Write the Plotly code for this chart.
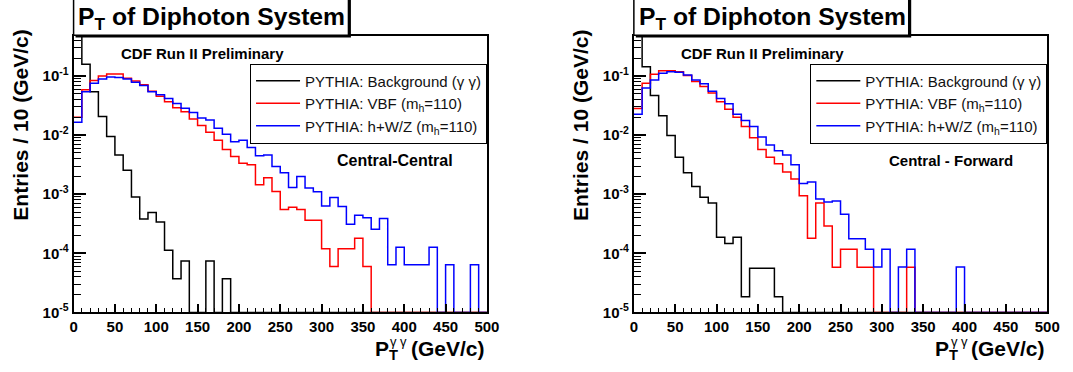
import plotly.graph_objects as go

# ---------------- data (10 GeV bins, 0-500 GeV) ----------------
bin_edges = list(range(0, 510, 10))

# Central-Central
bkg_cc = [0.9, 0.158, 0.054, 0.0207, 0.0095, 0.0046, 0.00255, 0.0009, 0.00038, 0.00049,
          0.00034, 0.000113, 3.7e-5, 7.4e-5, 0, 0, 7.4e-5, 0, 3.7e-5, 0] + [0] * 30
vbf_cc = [0.020, 0.0586, 0.084, 0.100, 0.108, 0.108, 0.0917, 0.0826, 0.071, 0.055,
          0.0456, 0.0367, 0.0292, 0.0248, 0.0187, 0.0145, 0.0112, 0.0082, 0.0057, 0.00434,
          0.00336, 0.00316, 0.00145, 0.0019, 0.00111, 0.00055, 0.0006, 0.00055, 0.000364, 0.000364,
          0.00012, 0.00006, 0.00012, 0.00012, 0.00018, 0.00006] + [0] * 14
whz_cc = [0.0165, 0.054, 0.0757, 0.089, 0.096, 0.094, 0.089, 0.0787, 0.069, 0.054,
          0.0484, 0.0416, 0.0343, 0.0284, 0.0241, 0.0194, 0.018, 0.0131, 0.0103, 0.0077,
          0.0082, 0.0062, 0.00446, 0.0046, 0.00296, 0.0023, 0.0013, 0.002, 0.00127, 0.0011,
          0.00063, 0.00088, 0.00062, 0.00031, 0.00044, 0.0004, 0.000255, 0.00039, 0.000064, 0.000127,
          0.000064, 0.000064, 0.000064, 0.000127, 0, 0.000064, 0, 0, 0.000064, 0]

# Central-Forward
bkg_cf = [0.6, 0.143, 0.0467, 0.0213, 0.0099, 0.00423, 0.0023, 0.00135, 0.00089, 0.00071,
          0.000188, 0.000146, 0.000188, 1.84e-5, 5.6e-5, 5.6e-5, 5.6e-5, 1.84e-5] + [0] * 32
vbf_cf = [0.0281, 0.0757, 0.1067, 0.123, 0.123, 0.118, 0.1016, 0.0807, 0.0667, 0.0517,
          0.0367, 0.0274, 0.020, 0.014, 0.00906, 0.0057, 0.00423, 0.00329, 0.00238, 0.00181,
          0.00094, 0.00018, 0.00071, 0.00029, 0.000058, 0.000117, 0.000117, 0.000058, 0.000058, 0,
          0, 0, 0, 0.000058] + [0] * 16
whz_cf = [0.0226, 0.0625, 0.086, 0.111, 0.118, 0.116, 0.104, 0.086, 0.0738, 0.055,
          0.0416, 0.034, 0.0226, 0.0176, 0.014, 0.0093, 0.0068, 0.00546, 0.0046, 0.00316,
          0.00152, 0.00161, 0.00083, 0.00074, 0.00077, 0.00046, 0.000177, 0.000177, 0.000117, 0.000059,
          0.000117, 0, 0.000059, 0.000117, 0, 0, 0, 0, 0, 0.000059] + [0] * 10

series_names = ["PYTHIA: Background (γ γ)",
                "PYTHIA: VBF (m<sub>h</sub>=110)",
                "PYTHIA: h+W/Z (m<sub>h</sub>=110)"]
series_colors = ["#000000", "#ff0000", "#0000ff"]
panel_labels = ["Central-Central", "Central - Forward"]
panels = [[bkg_cc, vbf_cc, whz_cc], [bkg_cf, vbf_cf, whz_cf]]
x_tickvals = list(range(0, 550, 50))
y_tickvals = [1e-5, 1e-4, 1e-3, 1e-2, 1e-1]
y_ticktext = ["10<sup>-5</sup>", "10<sup>-4</sup>", "10<sup>-3</sup>", "10<sup>-2</sup>",
              "10<sup>-1</sup>"]

# ---------------- layout helpers ----------------
W, H = 1073, 372
FONT = "Liberation Sans, Arial, Helvetica, sans-serif"
YMIN, YTOP = -5, -0.318


def px(x):
    return x / W


def py(y):
    return 1 - y / H


minor_y = [m * 10 ** e for e in range(-5, 0) for m in range(2, 10) if m * 10 ** e < 10 ** YTOP]

fig = go.Figure()
floor = 10 ** YMIN
for p, hists in enumerate(panels):
    xa = "x" if p == 0 else "x2"
    ya = "y" if p == 0 else "y2"
    for name, col, vals in zip(series_names, series_colors, hists):
        yv = [v if v > 0 else floor for v in vals]
        fig.add_trace(go.Scatter(
            x=bin_edges, y=yv + [yv[-1]], mode="lines", line_shape="hv",
            line=dict(color=col, width=1.5), name=name, xaxis=xa, yaxis=ya,
            legend="legend" if p == 0 else "legend2", hoverinfo="skip"))

shapes = []
annotations = []
layout_axes = {}
for p in range(2):
    off = 0 if p == 0 else 569.3
    sfx = "" if p == 0 else "2"
    layout_axes["xaxis" + sfx] = dict(
        domain=[px(70.7 + off), px(490.7 + off)], range=[0, 500], anchor="y" + sfx,
        tickmode="array", tickvals=x_tickvals, ticks="inside", ticklen=8, tickwidth=1.5,
        tickcolor="black",
        minor=dict(dtick=10, tick0=0, ticks="inside", ticklen=4, tickwidth=1, tickcolor="black"),
        showline=True, linewidth=2, linecolor="black", mirror=True,
        showgrid=False, zeroline=False,
        tickfont=dict(family=FONT, size=15, color="black", weight="bold"))
    layout_axes["yaxis" + sfx] = dict(
        type="log", range=[YMIN, YTOP], domain=[py(319.3), py(36.5)], anchor="x" + sfx,
        tickmode="array", tickvals=y_tickvals, ticktext=y_ticktext,
        ticks="inside", ticklen=12, tickwidth=1.5, tickcolor="black",
        minor=dict(tickmode="array", tickvals=minor_y, ticks="inside", ticklen=7, tickwidth=1,
                   tickcolor="black"),
        showline=True, linewidth=2, linecolor="black", mirror=True,
        showgrid=False, zeroline=False,
        tickfont=dict(family=FONT, size=15, color="black", weight="bold"))

    # title box with shadow
    shapes.append(dict(type="rect", xref="paper", yref="paper",
                       x0=px(72.7 + off), x1=px(352.5 + off), y0=py(38.3), y1=py(-5),
                       fillcolor="black", line=dict(width=0), layer="above"))
    shapes.append(dict(type="rect", xref="paper", yref="paper",
                       x0=px(70.7 + off), x1=px(350 + off), y0=py(36), y1=py(-5),
                       fillcolor="white", line=dict(color="black", width=1.5), layer="above"))
    annotations.append(dict(text="<b>P<sub>T</sub> of Diphoton System</b>", x=px(73.5 + off),
                            y=py(19), xref="paper", yref="paper", xanchor="left",
                            yanchor="middle", showarrow=False,
                            font=dict(family=FONT, size=24.7, color="black")))
    # legend shadow
    shapes.append(dict(type="rect", xref="paper", yref="paper",
                       x0=px(254 + off), x1=px(483.5 + off), y0=py(145), y1=py(69),
                       fillcolor="black", line=dict(width=0), layer="above"))
    annotations.append(dict(text="<b>CDF Run II Preliminary</b>", x=px(201.7 + off), y=py(54.2),
                            xref="paper", yref="paper", xanchor="center", yanchor="middle",
                            showarrow=False, font=dict(family=FONT, size=15, color="black")))
    annotations.append(dict(text="<b>" + panel_labels[p] + "</b>",
                            x=px((397.3 if p == 0 else 962.5 - 569.3) + off), y=py(163.7),
                            xref="paper", yref="paper", xanchor="center", yanchor="middle",
                            showarrow=False,
                            font=dict(family=FONT, size=16 if p == 0 else 15, color="black")))
    annotations.append(dict(text="<b>Entries / 10 (GeV/c)</b>", x=px(16.7 + off), y=py(128),
                            xref="paper", yref="paper", xanchor="center", yanchor="middle",
                            textangle=-90, showarrow=False,
                            font=dict(family=FONT, size=21, color="black")))
    annotations.append(dict(text="<b>(GeV/c)</b>", x=px(490.5 + off), y=py(356),
                            xref="paper", yref="paper", xanchor="right", yanchor="middle",
                            showarrow=False, font=dict(family=FONT, size=21, color="black")))
    annotations.append(dict(text="<b>P<sub>T</sub></b>", x=px(375 + off), y=py(358),
                            xref="paper", yref="paper", xanchor="left", yanchor="middle",
                            showarrow=False, font=dict(family=FONT, size=21, color="black")))
    annotations.append(dict(text="γ γ", x=px(390.5 + off), y=py(349),
                            xref="paper", yref="paper", xanchor="left", yanchor="middle",
                            showarrow=False, font=dict(family=FONT, size=13, color="black")))

legend_common = dict(xanchor="left", yanchor="top", bgcolor="white", bordercolor="black",
                     borderwidth=1, itemwidth=44, traceorder="normal",
                     font=dict(family=FONT, size=15, color="#111111"))
fig.update_layout(
    width=W, height=H, margin=dict(l=0, r=0, t=0, b=0),
    paper_bgcolor="white", plot_bgcolor="white", showlegend=True,
    legend=dict(x=px(250), y=py(65), **legend_common),
    legend2=dict(x=px(819.3), y=py(65), **legend_common),
    shapes=shapes, annotations=annotations, **layout_axes)

fig.write_html("out.html", config={"displayModeBar": False},
               post_script="document.body.style.margin='0';")
